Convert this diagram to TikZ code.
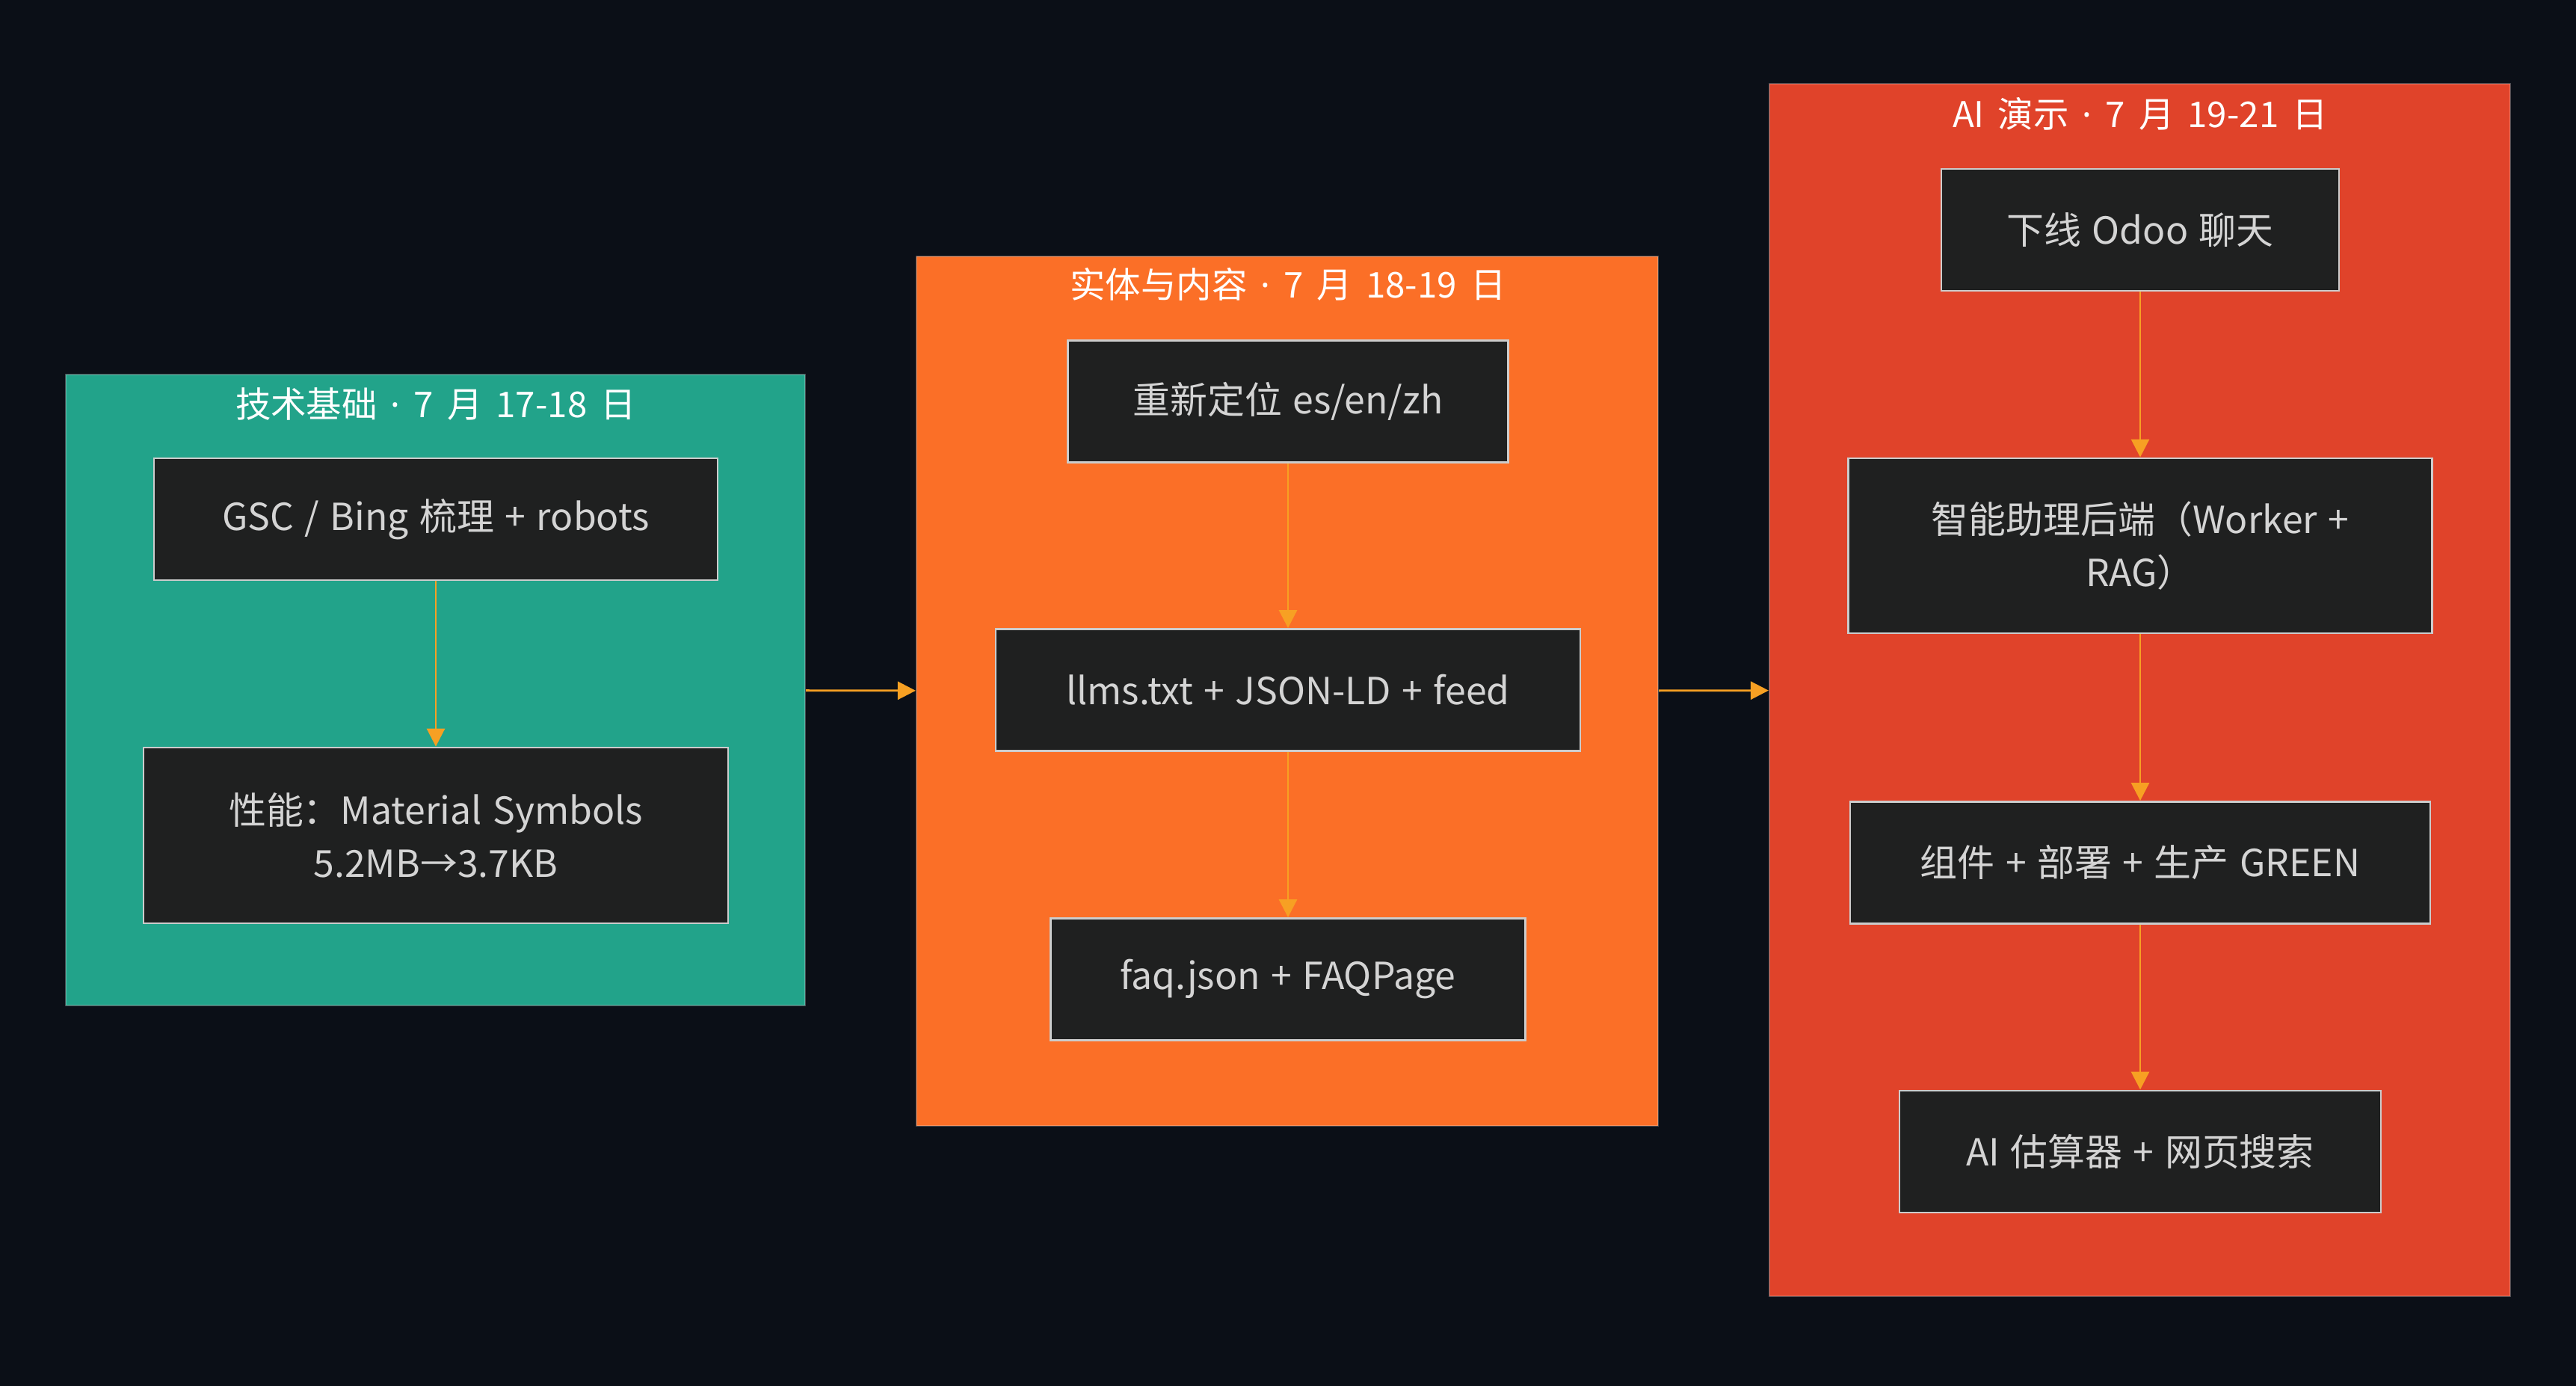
\documentclass[tikz,border=0pt]{standalone}
\usepackage{fontspec}
\setmainfont[WordSpace=1.3]{Noto Sans CJK SC}
\newfontfamily\titlefont[WordSpace=1.7]{Noto Sans CJK SC}
\newfontfamily\dotfont{Noto Sans}
\usetikzlibrary{positioning,arrows.meta}

\definecolor{bgdark}{HTML}{0B0F17}
\definecolor{techgreen}{HTML}{22A38A}
\definecolor{entityorange}{HTML}{FB6F27}
\definecolor{aired}{HTML}{E0432A}
\definecolor{taskfill}{HTML}{1F2020}
\definecolor{taskline}{HTML}{CCCCCC}
\definecolor{tasktext}{HTML}{D4D4D4}
\definecolor{flow}{HTML}{F7A023}

\newcommand{\middot}{{\dotfont ·}}

\tikzset{
  phase/.style={draw=white, draw opacity=0.25, line width=0.6pt, inner sep=0pt},
  phasetitle/.style={text=white, inner sep=0pt, font=\titlefont\fontsize{13.5pt}{16pt}\selectfont},
  task/.style={draw=taskline, fill=taskfill, text=tasktext, line width=0.8pt, minimum height=1.63cm, align=center, font=\fontsize{14.2pt}{20.3pt}\selectfont},
  flowarrow/.style={draw=flow, line width=0.8pt, -{Triangle[length=0.24cm, width=0.24cm]}}
}

\begin{document}
\begin{tikzpicture}
\fill[bgdark] (0,0) rectangle (34.46,-18.54);
\useasboundingbox (0,0) rectangle (34.46,-18.54);

% phases
\node[phase, fill=techgreen, minimum width=9.89cm, minimum height=8.44cm] (tech) at (5.825,-9.23) {};
\node[phase, fill=entityorange, minimum width=9.92cm, minimum height=11.63cm] (entity) at (17.22,-9.245) {};
\node[phase, fill=aired, minimum width=9.91cm, minimum height=16.22cm] (demo) at (28.625,-9.23) {};

\node[phasetitle] (techtitle) at (5.83,-5.40) {技术基础 \middot{} 7 月 17-18 日};
\node[phasetitle] (entitytitle) at (17.23,-3.80) {实体与内容 \middot{} 7 月 18-19 日};
\node[phasetitle] (demotitle) at (28.63,-1.52) {AI 演示 \middot{} 7 月 19-21 日};

% tasks
\node[task, minimum width=7.54cm] (gsc) at (5.83,-6.945) {GSC / Bing 梳理 + robots};
\node[task, minimum width=7.82cm, minimum height=2.35cm] (perf) at (5.83,-11.175) {性能：Material Symbols\\5.2MB→3.7KB};

\node[task, minimum width=5.89cm] (relocate) at (17.23,-5.37) {重新定位 es/en/zh};
\node[task, minimum width=7.82cm] (llms) at (17.23,-9.23) {llms.txt + JSON-LD + feed};
\node[task, minimum width=6.35cm] (faq) at (17.23,-13.10) {faq.json + FAQPage};

\node[task, minimum width=5.32cm] (odoo) at (28.63,-3.075) {下线 Odoo 聊天};
\node[task, minimum width=7.81cm, minimum height=2.34cm] (backend) at (28.63,-7.30) {智能助理后端（Worker +\\RAG）};
\node[task, minimum width=7.76cm] (widget) at (28.63,-11.54) {组件 + 部署 + 生产 GREEN};
\node[task, minimum width=6.44cm] (estimator) at (28.63,-15.405) {AI 估算器 + 网页搜索};

% flow
\draw[flowarrow] (gsc) -- (perf);
\draw[flowarrow] (relocate) -- (llms);
\draw[flowarrow] (llms) -- (faq);
\draw[flowarrow] (odoo) -- (backend);
\draw[flowarrow] (backend) -- (widget);
\draw[flowarrow] (widget) -- (estimator);

\draw[flowarrow] (tech) -- (entity);
\draw[flowarrow] (entity) -- (demo);

\end{tikzpicture}
\end{document}
